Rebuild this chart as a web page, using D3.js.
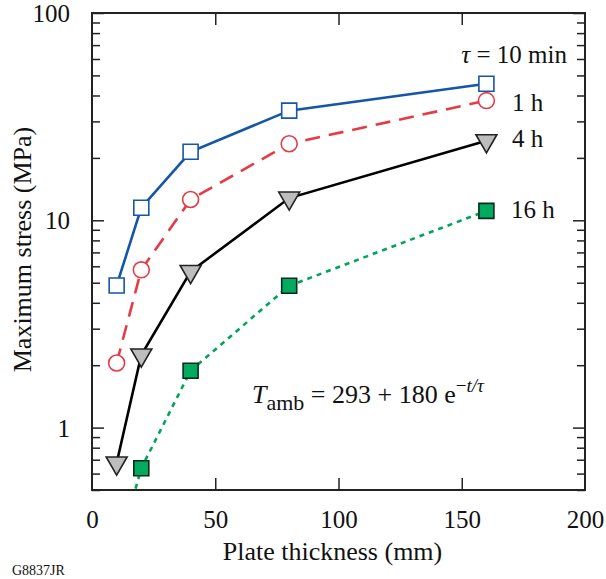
<!DOCTYPE html>
<html>
<head>
<meta charset="utf-8">
<script src="https://cdn.jsdelivr.net/npm/d3@7"></script>
<style>
  body { margin: 0; background: #fff; }
</style>
</head>
<body>
<div id="chart-area"></div>
<script>
// plate thickness (mm)
const thickness = [10, 20, 40, 80, 160];

// maximum stress (MPa) for each time constant
const stress10min = [4.85, 11.5, 21.4, 33.8, 45.6];
const stress1h    = [2.05, 5.77, 12.6, 23.4, 37.8];
const stress4h    = [0.675, 2.24, 5.66, 12.8, 24.2];
const stress16h   = [0.24, 0.637, 1.88, 4.83, 11.1];

const seriesNames = ["10 min", "1 h", "4 h", "16 h"];

const xTicks = [0, 50, 100, 150, 200];
const yTicks = [1, 10, 100];

const FONT = "'Liberation Serif', 'DejaVu Serif', 'Noto Serif', 'Times New Roman', Times, serif";

const chart = {
  totalWidth: 606,
  totalHeight: 579,
  marginLeft: 92,
  marginRight: 21,
  marginTop: 13,
  marginBottom: 89,
  fontSize: 25,

  setup: function() {
    this.width  = this.totalWidth  - this.marginLeft - this.marginRight;
    this.height = this.totalHeight - this.marginTop  - this.marginBottom;

    this.svg = d3.select("#chart-area")
      .append("svg")
        .attr("width", this.totalWidth)
        .attr("height", this.totalHeight)
        .style("font-family", FONT);

    this.g = this.svg.append("g")
      .attr("transform", "translate(" + this.marginLeft + "," + this.marginTop + ")");

    this.x = d3.scaleLinear().domain([0, 200]).range([0, this.width]);
    this.y = d3.scaleLog().domain([0.5, 100]).range([this.height, 0]);

    this.svg.append("defs").append("clipPath").attr("id", "plot-clip")
      .append("rect").attr("width", this.width).attr("height", this.height);
  },

  label: function(parent, x, y, size) {
    return parent.append("text")
      .attr("x", x).attr("y", y)
      .style("font-family", FONT)
      .attr("font-size", size)
      .attr("fill", "#111");
  },

  addAxes: function() {
    const w = this.width, h = this.height, fs = this.fontSize;
    const minor = [];
    [0.1, 1, 10].forEach(dec => {
      for (let k = 2; k <= 9; k++) {
        const v = dec * k;
        if (v >= 0.5 && v < 100) minor.push(v);
      }
    });

    const axisStyle = sel => {
      sel.attr("font-family", null).attr("font-size", fs);
      sel.select(".domain").remove();
      sel.selectAll("line").attr("stroke", "#222").attr("stroke-width", 1.5);
      sel.selectAll("text").attr("fill", "#111").style("font-family", FONT).attr("font-size", fs);
    };

    // bottom
    this.g.append("g")
      .attr("transform", "translate(0," + h + ")")
      .call(d3.axisBottom(this.x).tickValues(xTicks).tickSize(-12).tickPadding(20).tickFormat(d3.format("d")))
      .call(axisStyle)
      .call(s => s.selectAll(".tick").filter(d => d === 0 || d === 200).select("line").remove());

    // top
    this.g.append("g")
      .call(d3.axisTop(this.x).tickValues([50, 100, 150]).tickSize(-12).tickFormat(""))
      .call(axisStyle);

    // left major + minor
    this.g.append("g")
      .call(d3.axisLeft(this.y).tickValues(yTicks).tickSize(-12).tickPadding(22).tickFormat(d3.format("d")))
      .call(axisStyle)
      .call(s => s.selectAll(".tick text").attr("dy", "0.34em"));
    this.g.append("g")
      .call(d3.axisLeft(this.y).tickValues(minor).tickSize(-8).tickFormat(""))
      .call(axisStyle);

    // right major + minor
    this.g.append("g")
      .attr("transform", "translate(" + w + ",0)")
      .call(d3.axisRight(this.y).tickValues(yTicks).tickSize(-12).tickFormat(""))
      .call(axisStyle);
    this.g.append("g")
      .attr("transform", "translate(" + w + ",0)")
      .call(d3.axisRight(this.y).tickValues(minor).tickSize(-8).tickFormat(""))
      .call(axisStyle);

    // frame
    this.g.append("rect")
      .attr("width", w).attr("height", h)
      .attr("fill", "none").attr("stroke", "#222").attr("stroke-width", 2);

    // axis labels
    this.label(this.g, w / 2 - 6, h + 70, 26)
      .attr("text-anchor", "middle")
      .text("Plate thickness (mm)");

    this.label(this.g, -h / 2 + 2, -61, 26)
      .attr("transform", "rotate(-90)")
      .attr("text-anchor", "middle")
      .text("Maximum stress (MPa)");

    this.label(this.svg, 12, 575, 14).text("G8837JR");
  },

  addSeries: function() {
    const fs = this.fontSize;
    const series = [
      { name: seriesNames[0], values: stress10min, color: "#1556a8", dash: null,    marker: "square",   fill: "#fff",    mstroke: "#1556a8" },
      { name: seriesNames[1], values: stress1h,    color: "#e63a44", dash: "15,9",  marker: "circle",   fill: "#fff",    mstroke: "#e63a44" },
      { name: seriesNames[2], values: stress4h,    color: "#000",    dash: null,    marker: "triangle", fill: "#bdbdbd", mstroke: "#222" },
      { name: seriesNames[3], values: stress16h,   color: "#00a55a", dash: "5,5",   marker: "square",   fill: "#00aa5e", mstroke: "#0b2b1a" }
    ];

    const plot = this.g.append("g").attr("clip-path", "url(#plot-clip)");
    const line = d3.line()
      .x(d => this.x(d[0]))
      .y(d => this.y(d[1]));

    series.forEach(s => {
      const pts = thickness.map((t, i) => [t, s.values[i]]);
      plot.append("path")
        .datum(pts)
        .attr("fill", "none")
        .attr("stroke", s.color)
        .attr("stroke-width", 2.6)
        .attr("stroke-dasharray", s.dash)
        .attr("d", line);

      const sym = s.marker === "square" ? d3.symbolSquare
        : s.marker === "circle" ? d3.symbolCircle : d3.symbolTriangle;
      const size = s.marker === "square" ? 225 : s.marker === "circle" ? 200 : 190;
      const rot = s.marker === "triangle" ? 180 : 0;

      plot.selectAll(null)
        .data(pts)
        .enter()
        .append("path")
          .attr("d", d3.symbol().type(sym).size(size))
          .attr("transform", d => "translate(" + this.x(d[0]) + "," + this.y(d[1]) + ") rotate(" + rot + ")")
          .attr("fill", s.fill)
          .attr("stroke", s.mstroke)
          .attr("stroke-width", 1.6);
    });

    // series labels
    const tau = this.label(this.g, 567 - this.marginLeft, 63 - this.marginTop, fs)
      .attr("text-anchor", "end");
    tau.append("tspan").attr("font-style", "italic").text("τ");
    tau.append("tspan").text(" = " + seriesNames[0]);

    const labelPos = [[512, 111], [512, 147], [511, 218]];
    labelPos.forEach((p, i) => {
      this.label(this.g, p[0] - this.marginLeft, p[1] - this.marginTop, fs)
        .text(seriesNames[i + 1]);
    });

    // formula
    const f = this.label(this.g, 252 - this.marginLeft, 403 - this.marginTop, 26);
    f.append("tspan").attr("font-style", "italic").text("T");
    f.append("tspan").attr("dy", 7).attr("font-size", 22).text("amb");
    f.append("tspan").attr("dy", -7).text(" = 293 + 180 e");
    f.append("tspan").attr("dy", -11).attr("font-size", 19).text("−");
    f.append("tspan").attr("font-size", 19).attr("font-style", "italic").text("t/τ");
  }
};

chart.setup();
chart.addAxes();
chart.addSeries();
</script>
</body>
</html>
